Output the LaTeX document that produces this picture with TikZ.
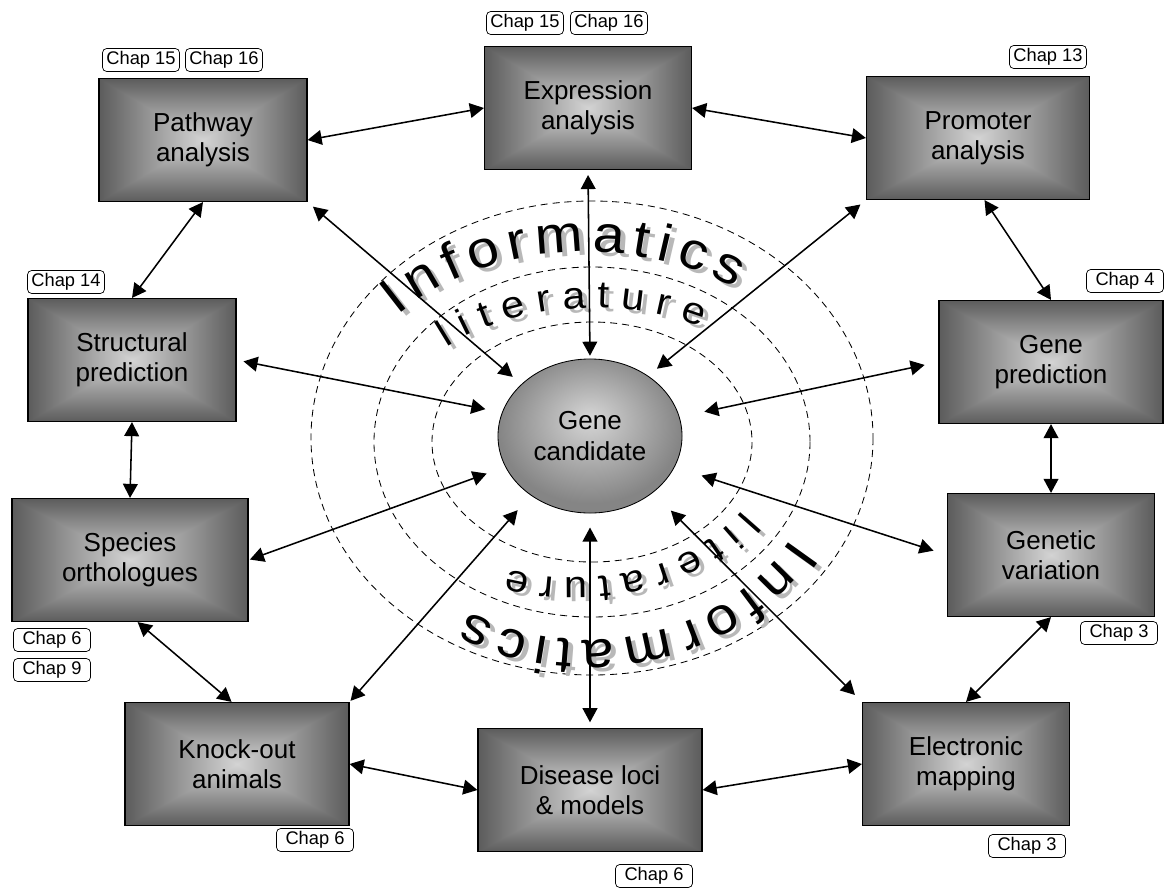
\documentclass[tikz,border=0pt]{standalone}
\usepackage{fontspec}
\setmainfont{Liberation Sans}
\newfontfamily\arcfont[FakeStretch=1.1]{Liberation Sans}
\usetikzlibrary{positioning, arrows.meta, shapes.geometric, decorations.text}
% box gradient: light centre, dark rim, seams along the diagonals
\pgfdeclarefunctionalshading{boxshade}{\pgfpoint{-50bp}{-50bp}}{\pgfpoint{50bp}{50bp}}{}{
    abs exch abs 2 copy lt {exch} if pop 25 div dup 1 gt {pop 1} if 0.47 mul 0.83 exch sub dup dup
}
\pgfdeclareradialshading{candshade}{\pgfpoint{0bp}{6bp}}{color(0bp)=(black!16); color(25bp)=(black!48); color(50bp)=(black!48)}
\newcommand{\infofont}{\arcfont\fontsize{37}{37}\selectfont}
\newcommand{\litfont}{\arcfont\fontsize{27}{27}\selectfont}

\begin{document}
\begin{tikzpicture}[
    % GLOBAL CFG
    x=0.025cm, y=-0.025cm,
    font=\fontsize{18.5}{21.5}\selectfont,
    >={Triangle[length=10pt, width=10.5pt]},
    % Styles
    topic/.style={% For the grey boxes
        rectangle,
        draw=black,
        line width=0.8pt,
        minimum height=3.075cm,
        inner sep=0pt,
        align=center,
        shade,
        shading=boxshade,
    },
    candidate/.style={% For the centre ellipse
        ellipse,
        draw=black,
        line width=0.6pt,
        minimum width=4.6cm,
        minimum height=3.85cm,
        inner sep=0pt,
        shade,
        shading=candshade,
        align=center,
    },
    chap/.style={% For chapter tags
        rectangle,
        rounded corners=3pt,
        draw=black,
        line width=0.5pt,
        fill=white,
        minimum width=1.925cm,
        minimum height=0.575cm,
        inner sep=0pt,
        font=\fontsize{13}{13}\selectfont,
    },
    ring/.style={% Dashed rings
        draw=black,
        line width=0.6pt,
        dash pattern=on 5pt off 3.5pt,
    },
    link/.style={% Double headed arrows
        line width=1.1pt,
    },
    ]

    \useasboundingbox (0,0) rectangle (1168,888);

    % Draw rings
    \draw [ring] (592,438) ellipse [x radius=281, y radius=237];
    \draw [ring] (592,442) ellipse [x radius=218, y radius=175];
    \draw [ring] (592,442) ellipse [x radius=160, y radius=120];

    % Draw curved words, shadow first
    \path [decorate, shift={(5,4)}, decoration={text along path, text color=black!28, text align=fit to path, text={|\infofont|Informatics}}]
        (586,443) ++(222:254 and 191) arc [start angle=222, end angle=306, x radius=254, y radius=191];
    \path [decorate, decoration={text along path, text align=fit to path, text={|\infofont|Informatics}}]
        (586,443) ++(222:254 and 191) arc [start angle=222, end angle=306, x radius=254, y radius=191];
    \path [decorate, shift={(5,4)}, decoration={text along path, text color=black!28, text align=fit to path, text={|\litfont|literature}}]
        (594,442) ++(225:208 and 134) arc [start angle=225, end angle=301, x radius=208, y radius=134];
    \path [decorate, decoration={text along path, text align=fit to path, text={|\litfont|literature}}]
        (594,442) ++(225:208 and 134) arc [start angle=225, end angle=301, x radius=208, y radius=134];
    \path [decorate, shift={(5,4)}, decoration={text along path, text color=black!28, text align=fit to path, text={|\infofont|Informatics}}]
        (588,443) ++(29:233 and 197) arc [start angle=29, end angle=121, x radius=233, y radius=197];
    \path [decorate, decoration={text along path, text align=fit to path, text={|\infofont|Informatics}}]
        (588,443) ++(29:233 and 197) arc [start angle=29, end angle=121, x radius=233, y radius=197];
    \path [decorate, shift={(5,4)}, decoration={text along path, text color=black!28, text align=fit to path, text={|\litfont|literature}}]
        (574,442) ++(30:194 and 136) arc [start angle=30, end angle=110, x radius=194, y radius=136];
    \path [decorate, decoration={text along path, text align=fit to path, text={|\litfont|literature}}]
        (574,442) ++(30:194 and 136) arc [start angle=30, end angle=110, x radius=194, y radius=136];

    % Draw centre
    \node [candidate] (cand) at (590,436) {Gene\\candidate};

    % Draw boxes
    \node [topic, minimum width=5.2cm] (pathw) at (203,140) {Pathway\\analysis};
    \node [topic, minimum width=5.175cm] (expr) at (588,108) {Expression\\analysis};
    \node [topic, minimum width=5.575cm] (prom) at (978,138) {Promoter\\analysis};
    \node [topic, minimum width=5.2cm] (struc) at (132,360) {Structural\\prediction};
    \node [topic, minimum width=5.6cm] (genep) at (1051,362) {Gene\\prediction};
    \node [topic, minimum width=5.9cm] (species) at (130,560) {Species\\orthologues};
    \node [topic, minimum width=5.175cm] (genvar) at (1051,555) {Genetic\\variation};
    \node [topic, minimum width=5.6cm] (knock) at (237,764) {Knock-out\\animals};
    \node [topic, minimum width=5.6cm] (disease) at (590,790) {Disease loci\\\& models};
    \node [topic, minimum width=5.175cm] (elec) at (966,764) {Electronic\\mapping};

    % Draw chapter tags
    \node [chap] (chap1) at (141,60) {Chap 15};
    \node [chap] (chap2) at (224,60) {Chap 16};
    \node [chap] (chap3) at (525,23) {Chap 15};
    \node [chap] (chap4) at (609,23) {Chap 16};
    \node [chap] (chap5) at (1048,57) {Chap 13};
    \node [chap] (chap6) at (66,282) {Chap 14};
    \node [chap] (chap7) at (1125,281) {Chap 4};
    \node [chap] (chap8) at (52,640) {Chap 6};
    \node [chap] (chap9) at (52,670) {Chap 9};
    \node [chap] (chap10) at (1119,633) {Chap 3};
    \node [chap] (chap11) at (1027,846) {Chap 3};
    \node [chap] (chap12) at (315,840) {Chap 6};
    \node [chap] (chap13) at (654,876) {Chap 6};

    % Connect all
    % Outer ring of boxes
    \draw [<->, link] (pathw.east) -- (expr.west);
    \draw [<->, link] (expr.east) -- (prom.west);
    \draw [<->, link] (prom.-84) -- (genep.north);
    \draw [<->, link] (genep.south) -- (genvar.north);
    \draw [<->, link] (genvar.south) -- (elec.north);
    \draw [<->, link] (elec.west) -- (disease.east);
    \draw [<->, link] (disease.west) -- (knock.east);
    \draw [<->, link] (knock.95) -- (species.-83);
    \draw [<->, link] (species.north) -- (struc.south);
    \draw [<->, link] (struc.north) -- (pathw.south);

    % Spokes to the centre
    \draw [<->, link, shorten <=3.5pt, shorten >=2pt] (expr.south) -- (cand.north);
    \draw [<->, link, shorten <=5pt, shorten >=8pt] (pathw.south east) -- (cand.143);
    \draw [<->, link, shorten <=5pt, shorten >=8pt] (prom.south west) -- (cand.46);
    \draw [<->, link, shorten <=5pt, shorten >=12pt] (struc.east) -- (cand.165);
    \draw [<->, link, shorten <=10pt, shorten >=18pt] (genep.west) -- (cand.12);
    \draw [<->, link, shorten <=1pt, shorten >=14pt] (species.east) -- (cand.200);
    \draw [<->, link, shorten <=10pt, shorten >=20pt] (genvar.west) -- (cand.-20);
    \draw [<->, link, shorten <=1pt, shorten >=14pt] (knock.north east) -- (cand.225);
    \draw [<->, link, shorten <=7pt, shorten >=18pt] (elec.north west) -- (cand.-42);
    \draw [<->, link, shorten <=4pt, shorten >=10pt] (disease.north) -- (cand.south);

\end{tikzpicture}
\end{document}
